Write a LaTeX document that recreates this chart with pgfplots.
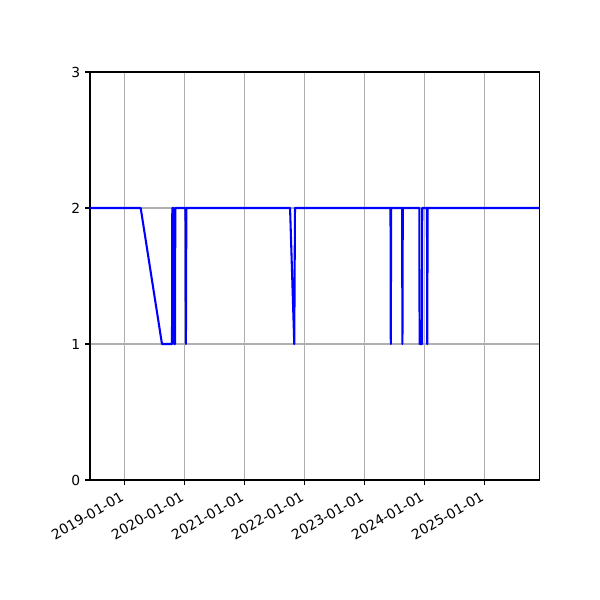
\documentclass[border=0pt]{standalone}
\usepackage{pgfplots}
\pgfplotsset{compat=1.18}
\usepackage{fontspec}
\setmainfont{DejaVu Sans}
\definecolor{gridgray}{HTML}{B0B0B0}

\begin{document}
\begin{tikzpicture}
\begin{axis}[
    at={(0,0)}, anchor=south west,
    scale only axis,
    width=325.2pt, height=294.9pt,
    xmin=2018.428, xmax=2025.928,
    ymin=0, ymax=3,
    xtick={2019,2020,2021,2022,2023,2024,2025},
    xticklabels={2019-01-01,2020-01-01,2021-01-01,2022-01-01,2023-01-01,2024-01-01,2025-01-01},
    ytick={0,1,2,3},
    xticklabel style={rotate=30, anchor=north east, inner sep=1pt, xshift=-4pt, yshift=-1pt, font=\fontsize{10}{12}\selectfont},
    yticklabel style={font=\fontsize{10}{12}\selectfont},
    /pgf/number format/assume math mode=true,
    tick align=outside,
    major tick length=3.5pt,
    tick style={black, line width=0.8pt},
    axis line style={line width=0.8pt},
    xtick pos=bottom, ytick pos=left,
    grid=major,
    major grid style={gridgray, line width=0.8pt},
    clip=true,
]
\addplot[color=blue, line width=1.5pt, line join=round] coordinates {
    (2018.428,2) (2019.273,2) (2019.628,1) (2019.795,1) (2019.800,2)
    (2019.825,2) (2019.830,1) (2019.845,1) (2019.850,2)
    (2020.020,2) (2020.027,1) (2020.034,2)
    (2021.763,2) (2021.833,1) (2021.845,2)
    (2023.437,2) (2023.442,1) (2023.448,2)
    (2023.630,2) (2023.636,1) (2023.642,2)
    (2023.918,2) (2023.922,1) (2023.962,1) (2023.966,2)
    (2024.045,2) (2024.050,1) (2024.056,2)
    (2025.928,2)
};
\end{axis}
\pgfresetboundingbox
\useasboundingbox (-65.04pt,-86.72pt) rectangle (368.56pt,346.93pt);
\end{tikzpicture}
\end{document}
